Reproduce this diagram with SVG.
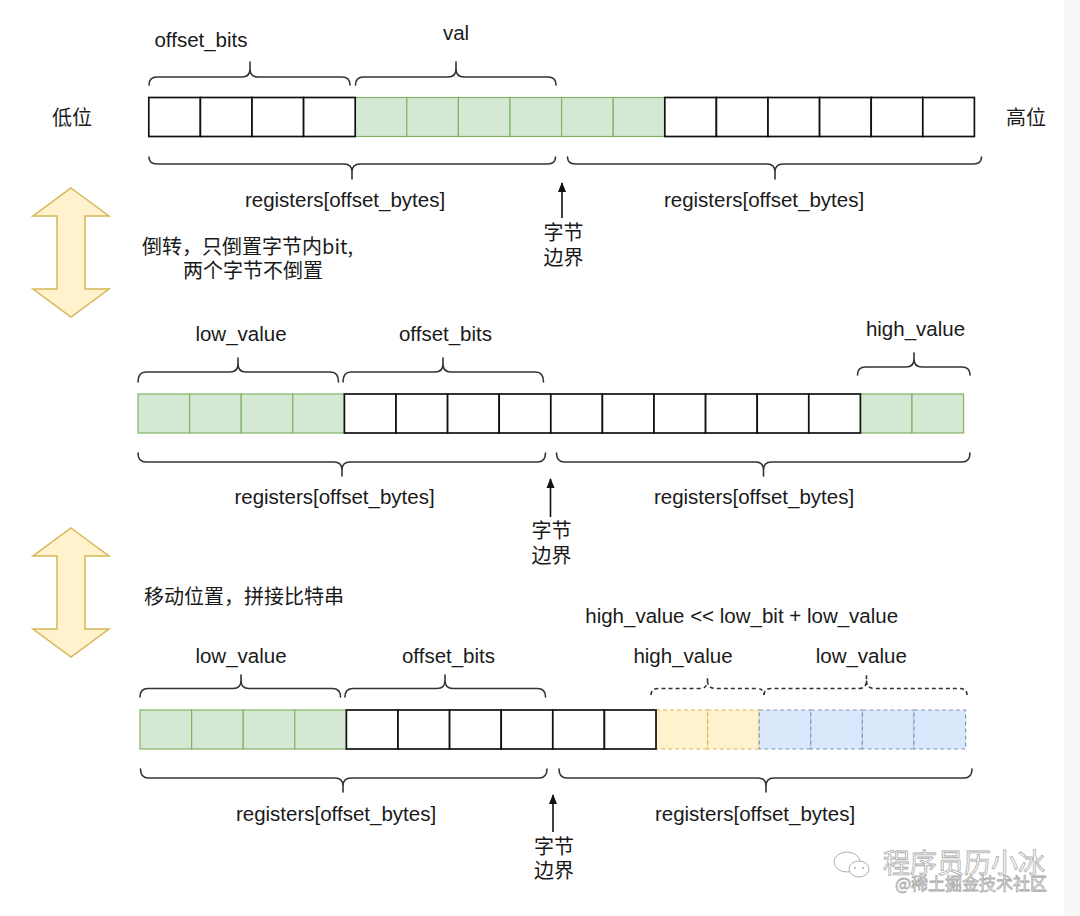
<svg xmlns="http://www.w3.org/2000/svg" width="1080" height="916" viewBox="0 0 1080 916">
<defs>
<style>
.bg{fill:#ffffff}
.w{fill:#ffffff;stroke:#111;stroke-width:1.7}
.g{fill:#d5e8d4;stroke:#82b366;stroke-width:1.2}
.y{fill:#fff2cc;stroke:#d6b656;stroke-width:1.2;stroke-dasharray:4 3}
.b{fill:#dae8fc;stroke:#8095b5;stroke-width:1.2;stroke-dasharray:4 3}
.br{fill:none;stroke:#333;stroke-width:1.6;stroke-linecap:round}
.brd{fill:none;stroke:#333;stroke-width:1.6;stroke-dasharray:4 3}
.t{font-family:"Liberation Sans",Arial,"Noto Sans CJK SC",sans-serif;font-size:20.5px;fill:#1a1a1a}
.c{font-family:"Noto Sans CJK SC","Liberation Sans",sans-serif;font-size:20px;fill:#1a1a1a}
.m{text-anchor:middle}
.dbl{fill:#fff2cc;stroke:#d6b656;stroke-width:1.5}
.con{stroke:#111;stroke-width:1.6;fill:none}
.wm{font-family:"Noto Sans CJK SC",sans-serif;fill:#ffffff;stroke:#ababab;stroke-width:0.8}
</style>
<marker id="ah" viewBox="0 0 10 10" refX="9" refY="5" markerWidth="10" markerHeight="10" orient="auto" markerUnits="userSpaceOnUse">
<path d="M0,1 L10,5 L0,9 z" fill="#111"/>
</marker>
</defs>
<rect class="bg" x="0" y="0" width="1080" height="916"/>
<rect x="1064" y="0" width="16" height="916" fill="#f7f7f7"/>

<!-- Top row -->
<g id="row1">
<rect class="g" x="355.2" y="97.5" width="51.6" height="39"/>
<rect class="g" x="406.8" y="97.5" width="51.6" height="39"/>
<rect class="g" x="458.4" y="97.5" width="51.6" height="39"/>
<rect class="g" x="510" y="97.5" width="51.6" height="39"/>
<rect class="g" x="561.6" y="97.5" width="51.6" height="39"/>
<rect class="g" x="613.2" y="97.5" width="51.6" height="39"/>
<rect class="w" x="148.8" y="97.5" width="51.6" height="39"/>
<rect class="w" x="200.4" y="97.5" width="51.6" height="39"/>
<rect class="w" x="252" y="97.5" width="51.6" height="39"/>
<rect class="w" x="303.6" y="97.5" width="51.6" height="39"/>
<rect class="w" x="664.8" y="97.5" width="51.6" height="39"/>
<rect class="w" x="716.4" y="97.5" width="51.6" height="39"/>
<rect class="w" x="768" y="97.5" width="51.6" height="39"/>
<rect class="w" x="819.6" y="97.5" width="51.6" height="39"/>
<rect class="w" x="871.2" y="97.5" width="51.6" height="39"/>
<rect class="w" x="922.8" y="97.5" width="51.6" height="39"/>
</g>
<g id="label-low"><text class="c" x="72" y="124.5" text-anchor="middle">低位</text></g>
<g id="label-high"><text class="c" x="1026" y="124.5" text-anchor="middle">高位</text></g>
<g id="r1-brace-offset"><path class="br" d="M149 85 Q149 77 157 77 H242 Q250 77 250 69 V62 M250 69 Q250 77 258 77 H342 Q350 77 350 85"/><text class="t m" x="201" y="46.5">offset_bits</text></g>
<g id="r1-brace-val"><path class="br" d="M355.5 85 Q355.5 77 363.5 77 H448 Q456 77 456 69 V62 M456 69 Q456 77 464 77 H548 Q556 77 556 85"/><text class="t m" x="456" y="40">val</text></g>
<g id="r1-brace-reg-left"><path class="br" d="M149 157 Q149 164 157 164 H344 Q352 164 352 172 V179 M352 172 Q352 164 360 164 H547.5 Q555.5 164 555.5 157"/><text class="t m" x="345" y="207">registers[offset_bytes]</text></g>
<g id="r1-brace-reg-right"><path class="br" d="M567.5 157 Q567.5 164 575.5 164 H767 Q775 164 775 172 V179 M775 172 Q775 164 783 164 H973.5 Q981.5 164 981.5 157"/><text class="t m" x="764" y="207">registers[offset_bytes]</text></g>
<g id="r1-boundary"><text class="c m"><tspan x="563.5" y="240">字节</tspan><tspan x="563.5" y="265">边界</tspan></text></g>

<!-- Double arrow 1 -->
<g id="flip-arrow"><path class="dbl" d="M71 188 L109 216 L85 216 L85 289 L109 289 L71 317 L33 289 L57 289 L57 216 L33 216 Z"/></g>
<g id="flip-note"><text class="c m"><tspan x="247.6" y="254">倒转，只倒置字节内bit,</tspan><tspan x="253" y="278">两个字节不倒置</tspan></text></g>

<!-- Middle row -->
<g id="row2">
<rect class="g" x="138" y="394" width="51.6" height="39"/>
<rect class="g" x="189.6" y="394" width="51.6" height="39"/>
<rect class="g" x="241.2" y="394" width="51.6" height="39"/>
<rect class="g" x="292.8" y="394" width="51.6" height="39"/>
<rect class="g" x="860.4" y="394" width="51.6" height="39"/>
<rect class="g" x="912" y="394" width="51.6" height="39"/>
<rect class="w" x="344.4" y="394" width="51.6" height="39"/>
<rect class="w" x="396" y="394" width="51.6" height="39"/>
<rect class="w" x="447.6" y="394" width="51.6" height="39"/>
<rect class="w" x="499.2" y="394" width="51.6" height="39"/>
<rect class="w" x="550.8" y="394" width="51.6" height="39"/>
<rect class="w" x="602.4" y="394" width="51.6" height="39"/>
<rect class="w" x="654" y="394" width="51.6" height="39"/>
<rect class="w" x="705.6" y="394" width="51.6" height="39"/>
<rect class="w" x="757.2" y="394" width="51.6" height="39"/>
<rect class="w" x="808.8" y="394" width="51.6" height="39"/>
</g>
<g id="r2-brace-low"><path class="br" d="M138 382 Q138 372 146 372 H230 Q238 372 238 364 V358 M238 364 Q238 372 246 372 H330.5 Q338.5 372 338.5 382"/><text class="t m" x="241" y="341">low_value</text></g>
<g id="r2-brace-offset"><path class="br" d="M343 382 Q343 372 351 372 H435 Q443 372 443 364 V358 M443 364 Q443 372 451 372 H535.5 Q543.5 372 543.5 382"/><text class="t m" x="445.5" y="341">offset_bits</text></g>
<g id="r2-brace-high"><path class="br" d="M857.5 375 Q857.5 367 865.5 367 H906 Q914 367 914 359 V353 M914 359 Q914 367 922 367 H962 Q970 367 970 375"/><text class="t m" x="915.5" y="336">high_value</text></g>
<g id="r2-brace-reg-left"><path class="br" d="M138 453 Q138 462 146 462 H334 Q342 462 342 470 V476 M342 470 Q342 462 350 462 H537.5 Q545.5 462 545.5 453"/><text class="t m" x="334.5" y="504">registers[offset_bytes]</text></g>
<g id="r2-brace-reg-right"><path class="br" d="M556.5 453 Q556.5 462 564.5 462 H755.5 Q763.5 462 763.5 470 V476 M763.5 470 Q763.5 462 771.5 462 H962 Q970 462 970 453"/><text class="t m" x="754" y="504">registers[offset_bytes]</text></g>
<g id="r2-boundary"><text class="c m"><tspan x="551.5" y="537.5">字节</tspan><tspan x="551.5" y="562.5">边界</tspan></text></g>

<!-- Double arrow 2 -->
<g id="shift-arrow"><path class="dbl" d="M71 528 L109 556 L85 556 L85 629 L109 629 L71 657 L33 629 L57 629 L57 556 L33 556 Z"/></g>
<g id="shift-note"><text class="c" x="144" y="604">移动位置，拼接比特串</text></g>

<!-- Bottom row -->
<g id="row3">
<rect class="g" x="140" y="710" width="51.6" height="39"/>
<rect class="g" x="191.6" y="710" width="51.6" height="39"/>
<rect class="g" x="243.2" y="710" width="51.6" height="39"/>
<rect class="g" x="294.8" y="710" width="51.6" height="39"/>
<rect class="y" x="656" y="710" width="51.6" height="39"/>
<rect class="y" x="707.6" y="710" width="51.6" height="39"/>
<rect class="b" x="759.2" y="710" width="51.6" height="39"/>
<rect class="b" x="810.8" y="710" width="51.6" height="39"/>
<rect class="b" x="862.4" y="710" width="51.6" height="39"/>
<rect class="b" x="914" y="710" width="51.6" height="39"/>
<rect class="w" x="346.4" y="710" width="51.6" height="39"/>
<rect class="w" x="398" y="710" width="51.6" height="39"/>
<rect class="w" x="449.6" y="710" width="51.6" height="39"/>
<rect class="w" x="501.2" y="710" width="51.6" height="39"/>
<rect class="w" x="552.8" y="710" width="51.6" height="39"/>
<rect class="w" x="604.4" y="710" width="51.6" height="39"/>
</g>
<g id="formula"><text class="t m" x="741.7" y="623">high_value &lt;&lt; low_bit + low_value</text></g>
<g id="r3-brace-low"><path class="br" d="M140 697 Q140 688.5 148 688.5 H233 Q241 688.5 241 680.5 V675 M241 680.5 Q241 688.5 249 688.5 H332.5 Q340.5 688.5 340.5 697"/><text class="t m" x="241" y="662.5">low_value</text></g>
<g id="r3-brace-offset"><path class="br" d="M345 697 Q345 688.5 353 688.5 H437 Q445 688.5 445 680.5 V675 M445 680.5 Q445 688.5 453 688.5 H537.5 Q545.5 688.5 545.5 697"/><text class="t m" x="448.5" y="662.5">offset_bits</text></g>
<g id="r3-brace-high-dashed"><path class="brd" d="M651 695 Q651 688.5 659 688.5 H699.5 Q707.5 688.5 707.5 680.5 V675 M707.5 680.5 Q707.5 688.5 715.5 688.5 H756 Q764 688.5 764 695"/><text class="t m" x="683" y="662.5">high_value</text></g>
<g id="r3-brace-low-dashed"><path class="brd" d="M764 695 Q764 688.5 772 688.5 H858.5 Q866.5 688.5 866.5 680.5 V675 M866.5 680.5 Q866.5 688.5 874.5 688.5 H959 Q967 688.5 967 695"/><text class="t m" x="861.3" y="662.5">low_value</text></g>
<g id="r3-brace-reg-left"><path class="br" d="M140.5 769 Q140.5 778 148.5 778 H335 Q343 778 343 786 V792 M343 786 Q343 778 351 778 H539 Q547 778 547 769"/><text class="t m" x="336" y="821">registers[offset_bytes]</text></g>
<g id="r3-brace-reg-right"><path class="br" d="M559 769 Q559 778 567 778 H758 Q766 778 766 786 V792 M766 786 Q766 778 774 778 H964 Q972 778 972 769"/><text class="t m" x="755" y="821">registers[offset_bytes]</text></g>
<g id="r3-boundary"><text class="c m"><tspan x="554" y="853.5">字节</tspan><tspan x="554" y="877.5">边界</tspan></text></g>

<!-- Connectors -->
<g id="connectors">
<line class="con" x1="562" y1="218" x2="562" y2="183" marker-end="url(#ah)"/>
<line class="con" x1="550.5" y1="517" x2="550.5" y2="479" marker-end="url(#ah)"/>
<line class="con" x1="553" y1="832" x2="553" y2="795" marker-end="url(#ah)"/>
</g>

<!-- Watermark -->
<g id="watermark">
<ellipse cx="847" cy="862" rx="13" ry="10" fill="none" stroke="#b0b0b0" stroke-width="1"/>
<ellipse cx="859" cy="869" rx="10" ry="8" fill="#fff" stroke="#b0b0b0" stroke-width="1"/>
<circle cx="855" cy="868" r="1" fill="#b0b0b0"/><circle cx="863" cy="868" r="1" fill="#b0b0b0"/>
<text class="wm" font-size="27"><tspan x="883" y="873">程序员历小冰</tspan><tspan x="895" y="890" font-size="17">@稀土掘金技术社区</tspan></text>
</g>
</svg>
